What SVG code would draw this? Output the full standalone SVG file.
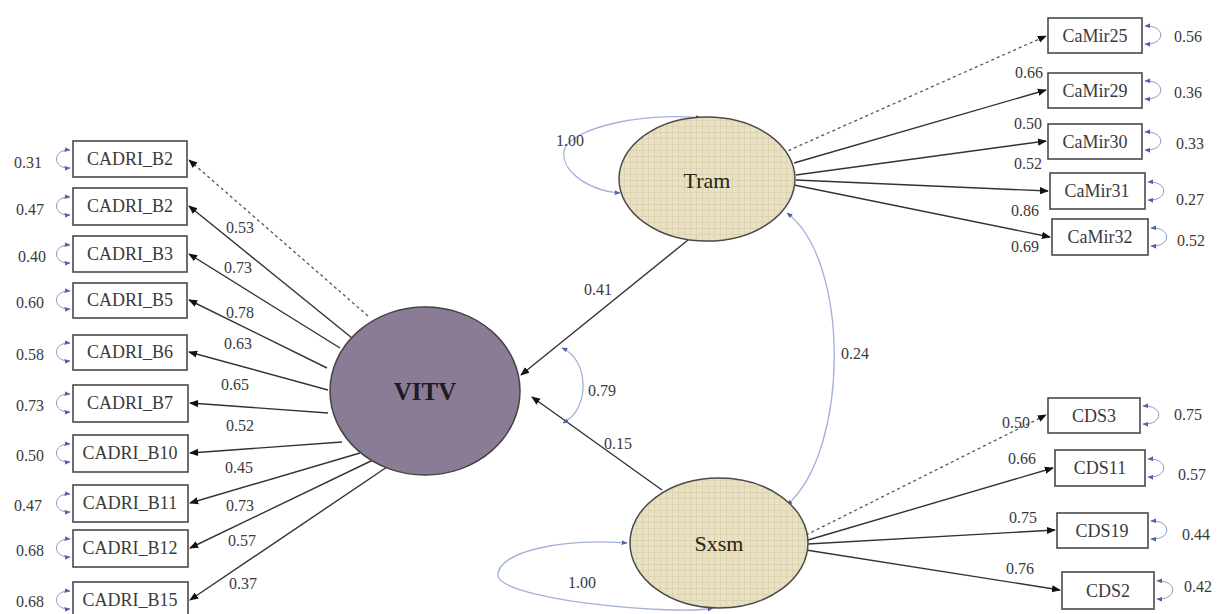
<svg xmlns="http://www.w3.org/2000/svg" width="1218" height="614" viewBox="0 0 1218 614">
<style>
.bg{fill:#ffffff}
.box{fill:#ffffff;stroke:#4a4a4a;stroke-width:1.6}
.bx{font-family:"Liberation Serif",serif;font-size:18px;fill:#3a3a3a;text-anchor:middle;dominant-baseline:central}
.num{font-family:"Liberation Serif",serif;font-size:16px;fill:#3a3a3a;text-anchor:middle;dominant-baseline:central}
.lat{font-family:"Liberation Serif",serif;font-size:22px;fill:#2a2418;text-anchor:middle;dominant-baseline:central}
.latb{font-family:"Liberation Serif",serif;font-size:25px;font-weight:bold;fill:#1e1a26;text-anchor:middle;dominant-baseline:central}
.ld{fill:none;stroke:#333;stroke-width:1.4;marker-end:url(#ah)}
.dot{fill:none;stroke:#555;stroke-width:1.3;stroke-dasharray:3,3;marker-end:url(#ah)}
.res{fill:none;stroke:#8a97c8;stroke-width:1;marker-start:url(#ab);marker-end:url(#ab)}
.cov{fill:none;stroke:#a4b0dc;stroke-width:1.3;marker-start:url(#ab);marker-end:url(#ab)}
.tan{fill:url(#tex);stroke:#4a4a4a;stroke-width:1.5}
</style>
<defs>
<marker id="ah" viewBox="0 0 10 10" refX="9" refY="5" markerWidth="9" markerHeight="9" markerUnits="userSpaceOnUse" orient="auto"><path d="M0,1 L10,5 L0,9 z" fill="#111"/></marker>
<marker id="ab" viewBox="0 0 10 10" refX="9" refY="5" markerWidth="6" markerHeight="6" markerUnits="userSpaceOnUse" orient="auto-start-reverse"><path d="M0,1 L10,5 L0,9 z" fill="#4f62a8"/></marker>
<pattern id="tex" width="6" height="6" patternUnits="userSpaceOnUse"><rect width="6" height="6" fill="#e9e1c5"/><path d="M0,0.5 H6 M0.5,0 V6" stroke="#ddd3b0" stroke-width="1"/></pattern>
</defs>
<rect class="bg" x="0" y="0" width="1218" height="614"/>

<g id="connectors">
<!-- VITV loadings -->
<path class="dot" d="M368,316 L189,160"/>
<path class="ld" d="M352,338 L189,206"/>
<path class="ld" d="M340,348 L189,254"/>
<path class="ld" d="M327,368 L189,300"/>
<path class="ld" d="M328,390 L189,352"/>
<path class="ld" d="M328,413 L190,403"/>
<path class="ld" d="M342,442 L190,453"/>
<path class="ld" d="M360,453 L190,503"/>
<path class="ld" d="M373,460 L190,548"/>
<path class="ld" d="M387,467 L190,600"/>
<!-- Tram loadings -->
<path class="dot" d="M783,153 L1046,36"/>
<path class="ld" d="M794,163 L1046,90"/>
<path class="ld" d="M796,175 L1046,141"/>
<path class="ld" d="M796,180 L1048,191"/>
<path class="ld" d="M794,185 L1050,237"/>
<!-- Sxsm loadings -->
<path class="dot" d="M806,535 L1046,415"/>
<path class="ld" d="M808,540 L1053,468"/>
<path class="ld" d="M808,544 L1055,530"/>
<path class="ld" d="M806,550 L1060,590"/>
<!-- structural -->
<path class="ld" d="M688,240 L521,375"/>
<path class="ld" d="M662,490 L532,397"/>
<!-- covariances -->
<path class="cov" d="M562,348 C590,360 590,410 563,423"/>
<path class="cov" d="M787,213 C850,260 850,450 787,505"/>
<!-- latent variances -->
<path class="cov" d="M701,118 C640,112 575,128 565,148 C558,168 585,190 620,193"/>
<path class="cov" d="M627,543 C560,538 498,552 498,575 C498,600 680,616 713,608"/>
<!-- left residuals -->
<path class="res" d="M70,150 C52,149 52,169 70,168"/>
<path class="res" d="M70,197 C52,196 52,216 70,215"/>
<path class="res" d="M70,245 C52,244 52,264 70,263"/>
<path class="res" d="M70,291 C52,290 52,310 70,309"/>
<path class="res" d="M70,343 C52,342 52,362 70,361"/>
<path class="res" d="M70,394 C52,393 52,413 70,412"/>
<path class="res" d="M70,444 C52,443 52,463 70,462"/>
<path class="res" d="M70,494 C52,493 52,513 70,512"/>
<path class="res" d="M70,539 C52,538 52,558 70,557"/>
<path class="res" d="M70,591 C52,590 52,610 70,609"/>
<!-- right residuals -->
<path class="res" d="M1145,26 C1166,25 1166,45 1145,44"/>
<path class="res" d="M1145,81 C1166,80 1166,100 1145,99"/>
<path class="res" d="M1145,132 C1166,131 1166,151 1145,150"/>
<path class="res" d="M1148,182 C1169,181 1169,201 1148,200"/>
<path class="res" d="M1151,228 C1172,227 1172,247 1151,246"/>
<path class="res" d="M1143,406 C1164,405 1164,425 1143,424"/>
<path class="res" d="M1148,459 C1169,458 1169,478 1148,477"/>
<path class="res" d="M1151,521 C1172,520 1172,540 1151,539"/>
<path class="res" d="M1157,581 C1178,580 1178,600 1157,599"/>
</g>

<g id="labels">
<text class="num" x="240" y="227">0.53</text>
<text class="num" x="238" y="267">0.73</text>
<text class="num" x="240" y="312">0.78</text>
<text class="num" x="238" y="343">0.63</text>
<text class="num" x="235" y="384">0.65</text>
<text class="num" x="240" y="425">0.52</text>
<text class="num" x="239" y="467">0.45</text>
<text class="num" x="240" y="505">0.73</text>
<text class="num" x="242" y="540">0.57</text>
<text class="num" x="243" y="583">0.37</text>
<text class="num" x="28" y="162">0.31</text>
<text class="num" x="30" y="209">0.47</text>
<text class="num" x="32" y="256">0.40</text>
<text class="num" x="30" y="302">0.60</text>
<text class="num" x="30" y="354">0.58</text>
<text class="num" x="30" y="405">0.73</text>
<text class="num" x="30" y="455">0.50</text>
<text class="num" x="28" y="505">0.47</text>
<text class="num" x="30" y="550">0.68</text>
<text class="num" x="30" y="601">0.68</text>
<text class="num" x="1029" y="72">0.66</text>
<text class="num" x="1028" y="123">0.50</text>
<text class="num" x="1028" y="163">0.52</text>
<text class="num" x="1025" y="210">0.86</text>
<text class="num" x="1025" y="246">0.69</text>
<text class="num" x="1188" y="36">0.56</text>
<text class="num" x="1188" y="92">0.36</text>
<text class="num" x="1190" y="143">0.33</text>
<text class="num" x="1190" y="199">0.27</text>
<text class="num" x="1191" y="240">0.52</text>
<text class="num" x="1016" y="422">0.50</text>
<text class="num" x="1022" y="458">0.66</text>
<text class="num" x="1023" y="517">0.75</text>
<text class="num" x="1020" y="568">0.76</text>
<text class="num" x="1188" y="414">0.75</text>
<text class="num" x="1192" y="474">0.57</text>
<text class="num" x="1196" y="534">0.44</text>
<text class="num" x="1198" y="586">0.42</text>
<text class="num" x="598" y="289">0.41</text>
<text class="num" x="618" y="443">0.15</text>
<text class="num" x="602" y="390">0.79</text>
<text class="num" x="855" y="353">0.24</text>
<text class="num" x="570" y="140">1.00</text>
<text class="num" x="582" y="582">1.00</text>
</g>

<g id="VITV"><ellipse cx="425" cy="391" rx="95" ry="84" fill="#8a7c94" stroke="#444" stroke-width="1.5"/><text class="latb" x="425" y="391">VITV</text></g>
<g id="Tram"><ellipse class="tan" cx="707" cy="179" rx="88" ry="62"/><text class="lat" x="707" y="180">Tram</text></g>
<g id="Sxsm"><ellipse class="tan" cx="719" cy="543" rx="89" ry="65"/><text class="lat" x="719" y="543">Sxsm</text></g>

<g id="CADRI_B2a"><rect class="box" x="73" y="141" width="114" height="36"/><text class="bx" x="130" y="159">CADRI_B2</text></g>
<g id="CADRI_B2b"><rect class="box" x="73" y="188" width="114" height="37"/><text class="bx" x="130" y="206">CADRI_B2</text></g>
<g id="CADRI_B3"><rect class="box" x="73" y="236" width="114" height="36"/><text class="bx" x="130" y="254">CADRI_B3</text></g>
<g id="CADRI_B5"><rect class="box" x="73" y="283" width="114" height="35"/><text class="bx" x="130" y="300">CADRI_B5</text></g>
<g id="CADRI_B6"><rect class="box" x="73" y="335" width="114" height="35"/><text class="bx" x="130" y="352">CADRI_B6</text></g>
<g id="CADRI_B7"><rect class="box" x="73" y="385" width="115" height="37"/><text class="bx" x="130" y="403">CADRI_B7</text></g>
<g id="CADRI_B10"><rect class="box" x="73" y="435" width="115" height="37"/><text class="bx" x="130" y="453">CADRI_B10</text></g>
<g id="CADRI_B11"><rect class="box" x="73" y="485" width="115" height="37"/><text class="bx" x="130" y="503">CADRI_B11</text></g>
<g id="CADRI_B12"><rect class="box" x="73" y="530" width="115" height="37"/><text class="bx" x="130" y="548">CADRI_B12</text></g>
<g id="CADRI_B15"><rect class="box" x="73" y="582" width="115" height="37"/><text class="bx" x="130" y="600">CADRI_B15</text></g>

<g id="CaMir25"><rect class="box" x="1048" y="18" width="94" height="35"/><text class="bx" x="1095" y="36">CaMir25</text></g>
<g id="CaMir29"><rect class="box" x="1048" y="73" width="94" height="35"/><text class="bx" x="1095" y="91">CaMir29</text></g>
<g id="CaMir30"><rect class="box" x="1048" y="124" width="94" height="35"/><text class="bx" x="1095" y="142">CaMir30</text></g>
<g id="CaMir31"><rect class="box" x="1050" y="173" width="95" height="36"/><text class="bx" x="1097" y="191">CaMir31</text></g>
<g id="CaMir32"><rect class="box" x="1052" y="219" width="96" height="36"/><text class="bx" x="1100" y="237">CaMir32</text></g>

<g id="CDS3"><rect class="box" x="1048" y="398" width="92" height="35"/><text class="bx" x="1094" y="416">CDS3</text></g>
<g id="CDS11"><rect class="box" x="1055" y="450" width="90" height="36"/><text class="bx" x="1100" y="468">CDS11</text></g>
<g id="CDS19"><rect class="box" x="1057" y="513" width="91" height="35"/><text class="bx" x="1102" y="531">CDS19</text></g>
<g id="CDS2"><rect class="box" x="1062" y="572" width="92" height="37"/><text class="bx" x="1108" y="591">CDS2</text></g>
</svg>
